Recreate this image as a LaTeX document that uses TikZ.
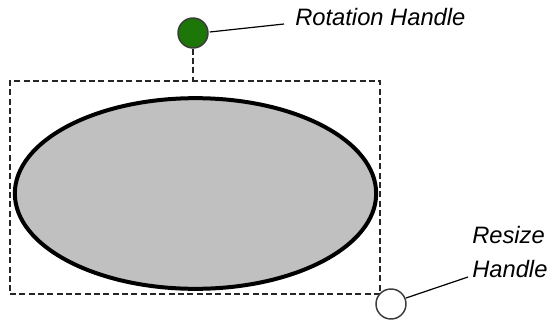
\documentclass[tikz,border=0pt]{standalone}
\usepackage{fontspec}
\setmainfont{Liberation Sans}
\usetikzlibrary{shapes.geometric}
\definecolor{handlegreen}{RGB}{28,118,8}
\definecolor{shapegray}{RGB}{192,192,192}
\definecolor{outlinegray}{RGB}{60,60,60}
\begin{document}
\begin{tikzpicture}[x=0.75pt,y=-0.75pt,
  selbox/.style={draw=black!85,line width=1.1pt,dash pattern=on 4.5pt off 2.5pt},
  handle/.style={circle,draw=outlinegray,line width=1.1pt,minimum size=22.5pt,inner sep=0pt},
  leader/.style={draw=black,line width=0.9pt},
  lbl/.style={font=\fontsize{17.8}{25.5}\selectfont\itshape,inner sep=0pt}]
\useasboundingbox (0,0) rectangle (551,322);
% selection box
\node[selbox,minimum width=277.5pt,minimum height=159.75pt,inner sep=0pt] (box) at (195,187.5) {};
% ellipse
\node[ellipse,draw=black,line width=3pt,fill=shapegray,minimum width=271pt,minimum height=143pt,inner sep=0pt] (shape) at (195.5,193.5) {};
% rotation handle
\node[handle,fill=handlegreen] (rot) at (193,33) {};
\draw[selbox] (rot.south) -- (rot.south |- box.north);
% resize handle
\node[handle,fill=white] (res) at (391,304) {};
% labels
\node[lbl,anchor=base west] (rotlbl) at (295,25) {Rotation Handle};
\node[lbl,anchor=north west,align=left] (reslbl) at (472,226) {Resize\\Handle};
\coordinate (rotend) at (284,24);
\coordinate (resend) at (468,277);
\draw[leader] (rot.east) ++(1,-1) -- (rotend);
\draw[leader] (res) ++(15,-6) -- (resend);
\end{tikzpicture}
\end{document}
